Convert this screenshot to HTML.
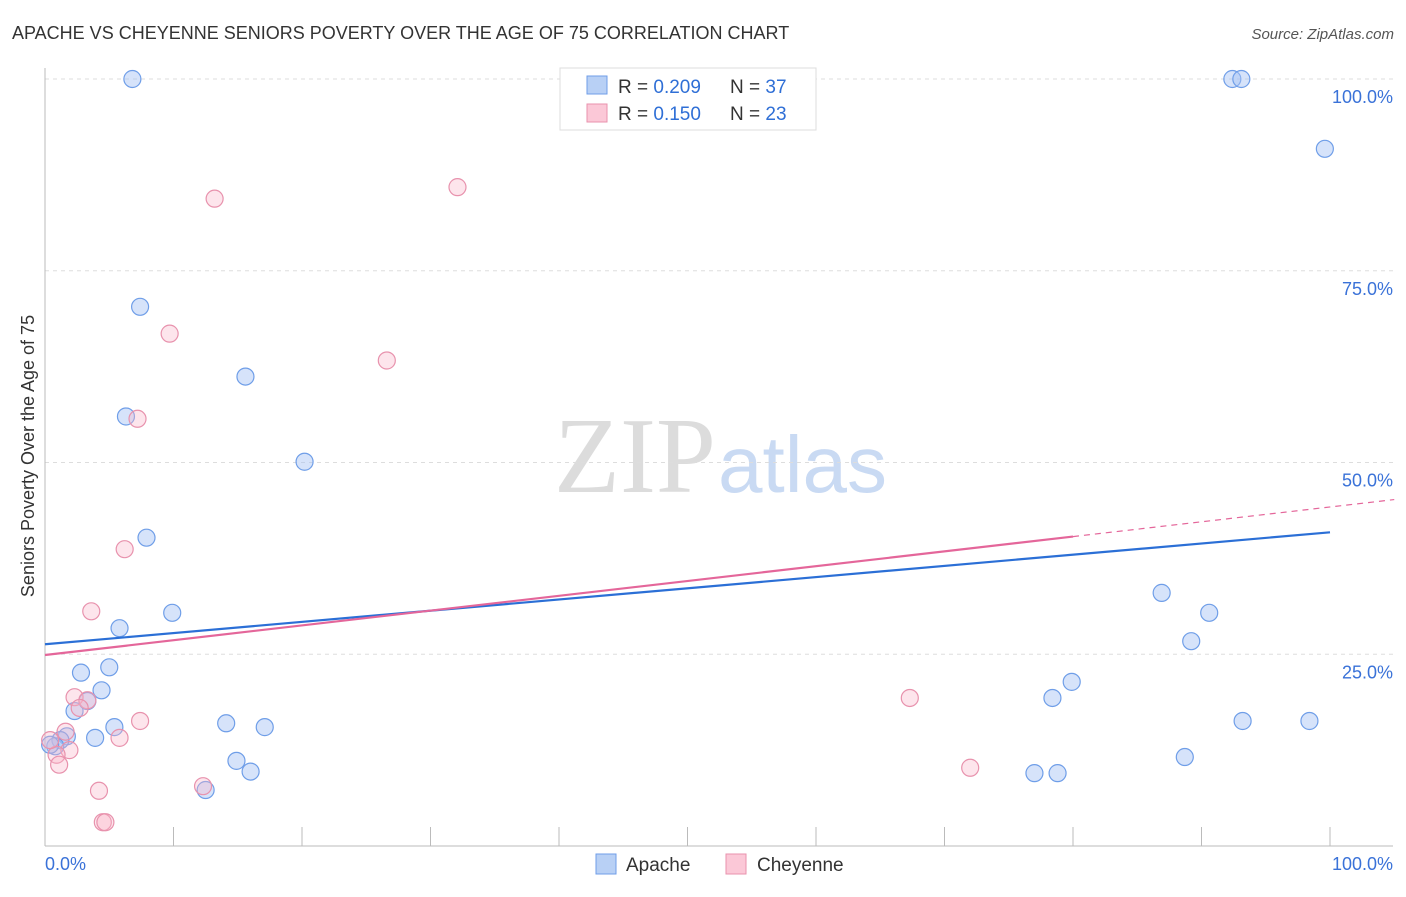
<!DOCTYPE html>
<html><head><meta charset="utf-8"><style>
body{margin:0;background:#fff;font-family:"Liberation Sans",sans-serif;}
svg text{font-family:"Liberation Sans",sans-serif;}
</style></head><body>
<svg id="chart" width="1406" height="892">
<text x="12" y="39" font-size="18" fill="#333">APACHE VS CHEYENNE SENIORS POVERTY OVER THE AGE OF 75 CORRELATION CHART</text>
<text x="1394" y="39" font-size="15" fill="#555" font-style="italic" text-anchor="end">Source: ZipAtlas.com</text>
<text x="716" y="492" font-size="108" fill="#dcdcdc" text-anchor="end" style="font-family:'Liberation Serif',serif">ZIP</text>
<text x="718" y="492" font-size="80" fill="#c9daf3">atlas</text>
<text transform="translate(34,456) rotate(-90)" font-size="18" fill="#333" text-anchor="middle">Seniors Poverty Over the Age of 75</text>
<g id="grid"></g><g id="marks"></g>
<g>
<rect x="560" y="68" width="256" height="62" fill="#fff" stroke="#ddd"/>
<rect x="587" y="76" width="20" height="18" fill="#b8d0f5" stroke="#6f9ee8"/>
<rect x="587" y="104" width="20" height="18" fill="#fbc8d7" stroke="#e892ad"/>
<text x="618" y="93" font-size="19" fill="#333">R = <tspan fill="#2f6fd6">0.209</tspan></text>
<text x="730" y="93" font-size="19" fill="#333">N = <tspan fill="#2f6fd6">37</tspan></text>
<text x="618" y="120" font-size="19" fill="#333">R = <tspan fill="#2f6fd6"> 0.150</tspan></text>
<text x="730" y="120" font-size="19" fill="#333">N = <tspan fill="#2f6fd6">23</tspan></text>
</g>
<g>
<rect x="596" y="854" width="20" height="20" fill="#b8d0f5" stroke="#6f9ee8"/>
<text x="626" y="871" font-size="19" fill="#333">Apache</text>
<rect x="726" y="854" width="20" height="20" fill="#fbc8d7" stroke="#e892ad"/>
<text x="757" y="871" font-size="19" fill="#333">Cheyenne</text>
</g>
</svg>
<script>
const apacheX=[6.8,92.4,93.1,99.6,7.4,15.6,6.3,20.2,7.9,86.9,9.9,90.6,5.8,89.2,5.0,2.8,4.4,79.9,78.4,2.3,3.3,5.4,14.1,17.1,93.2,98.4,3.9,1.7,1.2,0.8,14.9,16.0,88.7,77.0,78.8,12.5,0.4];
const apacheY=[100,100,100,90.9,70.3,61.2,56.0,50.1,40.2,33.0,30.4,30.4,28.4,26.7,23.3,22.6,20.3,21.4,19.3,17.6,18.9,15.5,16.0,15.5,16.3,16.3,14.1,14.3,13.8,13.0,11.1,9.7,11.6,9.5,9.5,7.3,13.2];
const cheyX=[13.2,32.1,9.7,26.6,7.2,6.2,3.6,67.3,2.3,3.3,2.7,7.4,1.6,5.8,1.9,0.9,1.1,72.0,12.3,4.2,4.5,4.7,0.4];
const cheyY=[84.4,85.9,66.8,63.3,55.7,38.7,30.6,19.3,19.4,19.0,18.0,16.3,14.9,14.1,12.5,11.9,10.6,10.2,7.8,7.2,3.1,3.1,13.8];
const apacheTrend=[26.3,40.9];
const cheyTrend=[24.9,44.2];
const yTicks=[25,50,75,100];
const yTickLabels=["25.0%","50.0%","75.0%","100.0%"];
const xTicks=[0,10,20,30,40,50,60,70,80,90,100];
const NS="http://www.w3.org/2000/svg";
const sx=v=>45+v*12.85, sy=v=>846-v*7.67;
function mk(tag,a,parent){const e=document.createElementNS(NS,tag);for(const k in a)e.setAttribute(k,a[k]);parent.appendChild(e);return e;}
const g=document.getElementById('grid'), m=document.getElementById('marks');
yTicks.forEach((t,i)=>{
 const l=mk('line',{x1:45,x2:1393,y1:sy(t),y2:sy(t),stroke:'#ddd','stroke-dasharray':'4,4'},g);
 
 
 const tx=mk('text',{x:1393,y:sy(t)+24,'font-size':18,fill:'#3a72d8','text-anchor':'end'},g);
 tx.textContent=yTickLabels[i];
 
 
});
let ax=mk('line',{x1:45,x2:45,y1:68,y2:846,stroke:'#bbb'},g);


ax=mk('line',{x1:45,x2:1393,y1:846,y2:846,stroke:'#bbb'},g);


xTicks.forEach(t=>{const l=mk('line',{x1:sx(t),x2:sx(t),y1:827,y2:846,stroke:'#bbb'},g);
 
 });
let xl=mk('text',{x:45,y:870,'font-size':18,fill:'#3a72d8'},g);xl.textContent='0.0%';


xl=mk('text',{x:1393,y:870,'font-size':18,fill:'#3a72d8','text-anchor':'end'},g);xl.textContent='100.0%';


function dots(X,Y,fill,stroke,name){X.forEach((x,i)=>{const c=mk('circle',{cx:sx(x),cy:sy(Y[i]),r:8.5,fill:fill,stroke:stroke,'stroke-width':1.2},m);
 
 });}
dots(apacheX,apacheY,'rgba(164,194,244,0.45)','#6f9ee8','apache-point');
dots(cheyX,cheyY,'rgba(248,180,200,0.35)','#e892ad','cheyenne-point');
let tl=mk('line',{x1:sx(0),y1:sy(apacheTrend[0]),x2:sx(100),y2:sy(apacheTrend[1]),stroke:'#2b6fd6','stroke-width':2.2},m);


const cy=x=>cheyTrend[0]+(cheyTrend[1]-cheyTrend[0])*x/100;
tl=mk('line',{x1:sx(0),y1:sy(cy(0)),x2:sx(80),y2:sy(cy(80)),stroke:'#e4669a','stroke-width':2.2},m);


tl=mk('line',{x1:sx(80),y1:sy(cy(80)),x2:sx(105),y2:sy(cy(105)),stroke:'#e4669a','stroke-width':1.2,'stroke-dasharray':'6,5'},m);


</script>
</body></html>
